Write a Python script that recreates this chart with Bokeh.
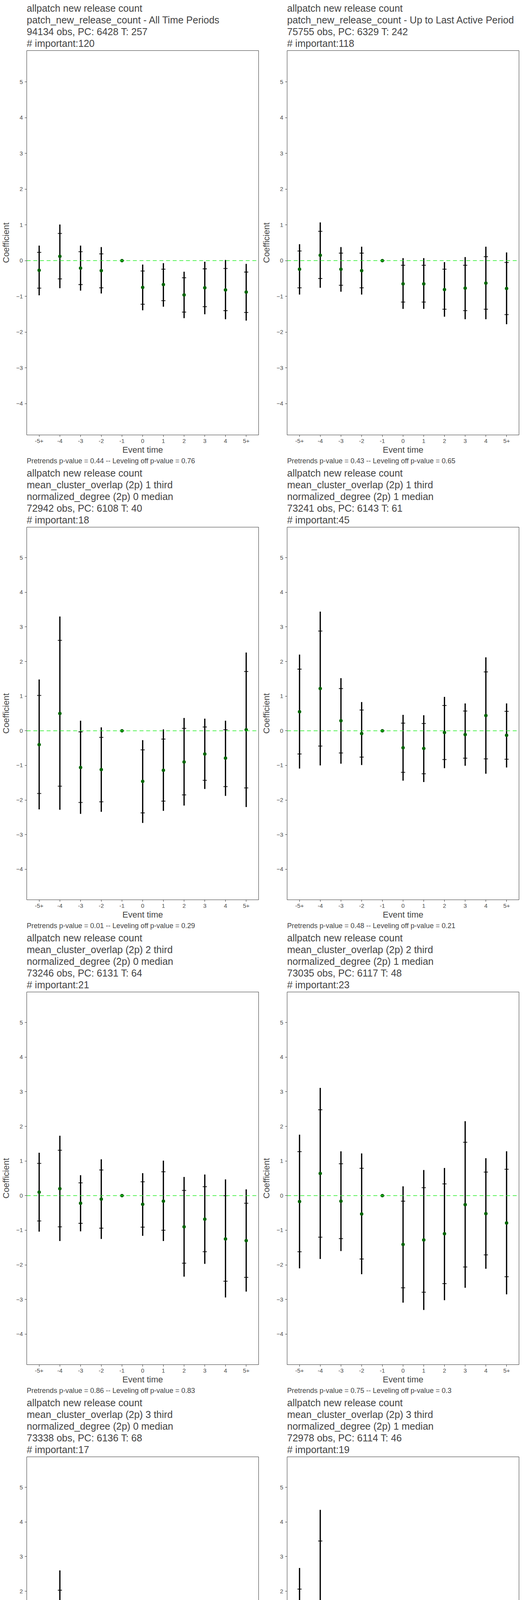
from bokeh.plotting import figure
from bokeh.layouts import gridplot
from bokeh.models import Title, FixedTicker, Span, ColumnDataSource
from bokeh.embed import file_html
from bokeh.resources import INLINE

event_labels = ["-5+", "-4", "-3", "-2", "-1", "0", "1", "2", "3", "4", "5+"]

titles = [
    " allpatch new release count\npatch_new_release_count - All Time Periods\n94134 obs, PC: 6428 T: 257\n# important:120",
    " allpatch new release count\npatch_new_release_count - Up to Last Active Period\n75755 obs, PC: 6329 T: 242\n# important:118",
    " allpatch new release count\nmean_cluster_overlap (2p) 1 third\nnormalized_degree (2p) 0 median\n72942 obs, PC: 6108 T: 40\n# important:18",
    " allpatch new release count\nmean_cluster_overlap (2p) 1 third\nnormalized_degree (2p) 1 median\n73241 obs, PC: 6143 T: 61\n# important:45",
    " allpatch new release count\nmean_cluster_overlap (2p) 2 third\nnormalized_degree (2p) 0 median\n73246 obs, PC: 6131 T: 64\n# important:21",
    " allpatch new release count\nmean_cluster_overlap (2p) 2 third\nnormalized_degree (2p) 1 median\n73035 obs, PC: 6117 T: 48\n# important:23",
    " allpatch new release count\nmean_cluster_overlap (2p) 3 third\nnormalized_degree (2p) 0 median\n73338 obs, PC: 6136 T: 68\n# important:17",
    " allpatch new release count\nmean_cluster_overlap (2p) 3 third\nnormalized_degree (2p) 1 median\n72978 obs, PC: 6114 T: 46\n# important:19",
]

pvalues = [
    "Pretrends p-value = 0.44 -- Leveling off p-value = 0.76",
    "Pretrends p-value = 0.43 -- Leveling off p-value = 0.65",
    "Pretrends p-value = 0.01 -- Leveling off p-value = 0.29",
    "Pretrends p-value = 0.48 -- Leveling off p-value = 0.21",
    "Pretrends p-value = 0.86 -- Leveling off p-value = 0.83",
    "Pretrends p-value = 0.75 -- Leveling off p-value = 0.3",
    "Pretrends p-value = 0.69 -- Leveling off p-value = 0.36",
    "Pretrends p-value = 0.38 -- Leveling off p-value = 0.42",
]

# coefficient, outer (95%) bounds, inner bounds per panel
p1_coef = [-0.27, 0.12, -0.21, -0.28, 0, -0.75, -0.67, -0.96, -0.76, -0.82, -0.88]
p1_hi = [0.42, 1.01, 0.42, 0.38, 0, -0.11, -0.07, -0.31, -0.03, 0.02, -0.09]
p1_hi_in = [0.23, 0.76, 0.25, 0.19, 0, -0.29, -0.24, -0.48, -0.23, -0.22, -0.32]
p1_lo_in = [-0.77, -0.51, -0.67, -0.76, 0, -1.22, -1.12, -1.44, -1.29, -1.40, -1.45]
p1_lo = [-0.97, -0.77, -0.84, -0.92, 0, -1.39, -1.29, -1.61, -1.50, -1.64, -1.68]

p2_coef = [-0.24, 0.15, -0.24, -0.28, 0, -0.65, -0.65, -0.81, -0.77, -0.63, -0.78]
p2_hi = [0.46, 1.07, 0.38, 0.39, 0, 0.07, 0.07, -0.04, 0.10, 0.39, 0.23]
p2_hi_in = [0.27, 0.82, 0.21, 0.21, 0, -0.13, -0.13, -0.24, -0.13, 0.11, -0.05]
p2_lo_in = [-0.76, -0.50, -0.69, -0.76, 0, -1.16, -1.16, -1.36, -1.40, -1.36, -1.51]
p2_lo = [-0.95, -0.76, -0.87, -0.95, 0, -1.35, -1.35, -1.57, -1.64, -1.64, -1.78]

p3_coef = [-0.40, 0.50, -1.06, -1.12, 0, -1.46, -1.14, -0.90, -0.67, -0.79, 0.03]
p3_hi = [1.48, 3.30, 0.29, 0.10, 0, -0.27, 0.04, 0.37, 0.35, 0.29, 2.26]
p3_hi_in = [1.02, 2.61, -0.03, -0.19, 0, -0.55, -0.24, 0.07, 0.11, 0.03, 1.71]
p3_lo_in = [-1.81, -1.60, -2.07, -2.05, 0, -2.37, -2.03, -1.85, -1.43, -1.61, -1.65]
p3_lo = [-2.27, -2.28, -2.40, -2.34, 0, -2.66, -2.31, -2.16, -1.68, -1.88, -2.20]

p4_coef = [0.55, 1.22, 0.29, -0.08, 0, -0.49, -0.51, -0.05, -0.11, 0.44, -0.13]
p4_hi = [2.20, 3.44, 1.52, 0.83, 0, 0.46, 0.45, 0.98, 0.79, 2.12, 0.79]
p4_hi_in = [1.78, 2.88, 1.22, 0.60, 0, 0.22, 0.21, 0.73, 0.57, 1.70, 0.56]
p4_lo_in = [-0.67, -0.44, -0.64, -0.76, 0, -1.20, -1.24, -0.83, -0.79, -0.81, -0.82]
p4_lo = [-1.09, -1.00, -0.95, -0.99, 0, -1.44, -1.48, -1.08, -1.01, -1.24, -1.06]

p5_coef = [0.10, 0.20, -0.22, -0.10, 0, -0.25, -0.16, -0.90, -0.68, -1.25, -1.30]
p5_hi = [1.24, 1.73, 0.59, 1.05, 0, 0.65, 1.01, 0.54, 0.61, 0.47, 0.18]
p5_hi_in = [0.93, 1.31, 0.37, 0.74, 0, 0.40, 0.69, 0.15, 0.26, 0.00, -0.22]
p5_lo_in = [-0.73, -0.90, -0.80, -0.94, 0, -0.91, -1.00, -1.95, -1.62, -2.47, -2.36]
p5_lo = [-1.04, -1.31, -1.03, -1.25, 0, -1.16, -1.31, -2.34, -1.97, -2.94, -2.77]

p6_coef = [-0.17, 0.64, -0.16, -0.53, 0, -1.41, -1.28, -1.10, -0.26, -0.52, -0.79]
p6_hi = [1.76, 3.11, 1.28, 1.22, 0, 0.27, 0.74, 0.80, 2.15, 1.08, 1.28]
p6_hi_in = [1.27, 2.48, 0.92, 0.79, 0, -0.16, 0.23, 0.34, 1.54, 0.68, 0.76]
p6_lo_in = [-1.62, -1.20, -1.24, -1.83, 0, -2.66, -2.79, -2.54, -2.06, -1.71, -2.34]
p6_lo = [-2.10, -1.83, -1.60, -2.27, 0, -3.09, -3.30, -3.02, -2.66, -2.11, -2.85]

p7_coef = [0.01, 0.54, -0.33, -0.17, 0, 0.11, 0.28, 0.10, 0.13, 0.36, 0.01]
p7_hi = [1.47, 2.60, 0.61, 0.82, 0, 1.37, 1.44, 1.09, 1.12, 1.71, 1.16]
p7_hi_in = [1.07, 2.03, 0.37, 0.55, 0, 1.03, 1.12, 0.82, 0.86, 1.34, 0.85]
p7_lo_in = [-1.05, -0.95, -1.01, -0.91, 0, -0.79, -0.58, -0.63, -0.60, -0.62, -0.82]
p7_lo = [-1.44, -1.51, -1.27, -1.18, 0, -1.13, -0.89, -0.90, -0.86, -0.99, -1.13]

p8_coef = [0.54, 1.23, -0.19, -0.36, 0, -0.66, -0.74, -0.33, -1.02, -0.61, -0.99]
p8_hi = [2.67, 4.35, 0.92, 0.49, 0, 0.15, 0.15, 0.93, 0.13, 0.80, 0.28]
p8_hi_in = [2.06, 3.45, 0.61, 0.25, 0, -0.08, -0.10, 0.57, -0.20, 0.42, -0.09]
p8_lo_in = [-0.97, -0.99, -0.99, -0.98, 0, -1.22, -1.38, -1.24, -1.83, -1.62, -1.91]
p8_lo = [-1.57, -1.89, -1.30, -1.21, 0, -1.44, -1.62, -1.59, -2.16, -2.04, -2.21]

panels = [
    (p1_coef, p1_hi, p1_hi_in, p1_lo_in, p1_lo),
    (p2_coef, p2_hi, p2_hi_in, p2_lo_in, p2_lo),
    (p3_coef, p3_hi, p3_hi_in, p3_lo_in, p3_lo),
    (p4_coef, p4_hi, p4_hi_in, p4_lo_in, p4_lo),
    (p5_coef, p5_hi, p5_hi_in, p5_lo_in, p5_lo),
    (p6_coef, p6_hi, p6_hi_in, p6_lo_in, p6_lo),
    (p7_coef, p7_hi, p7_hi_in, p7_lo_in, p7_lo),
    (p8_coef, p8_hi, p8_hi_in, p8_lo_in, p8_lo),
]

FONT = "Liberation Sans"
xs = list(range(len(event_labels)))


def make_panel(title, ptext, coef, hi, hi_in, lo_in, lo):
    p = figure(width=667, height=1190, x_range=(-0.6, 10.6), y_range=(-4.88, 5.88),
               output_backend="svg", toolbar_location=None,
               min_border_left=58, min_border_right=5, min_border_top=4, min_border_bottom=4)
    p.title.text = title
    p.title.text_font = FONT
    p.title.text_font_size = "25px"
    p.title.text_font_style = "normal"
    p.title.text_line_height = 1.08
    p.title.standoff = 8
    p.add_layout(Title(text=ptext, align="left", text_font=FONT, text_font_size="18px",
                       text_font_style="normal", standoff=2), "below")

    p.grid.visible = False
    p.outline_line_color = "#333333"
    p.outline_line_width = 1
    p.background_fill_color = "white"

    for ax in (p.xaxis[0], p.yaxis[0]):
        ax.axis_line_color = None
        ax.major_tick_line_color = "#333333"
        ax.major_tick_out = 5
        ax.major_tick_in = 0
        ax.minor_tick_line_color = None
        ax.major_label_text_color = "#4d4d4d"
        ax.major_label_text_font = FONT
        ax.major_label_text_font_size = "15px"
        ax.axis_label_text_font = FONT
        ax.axis_label_text_font_style = "normal"
        ax.axis_label_text_font_size = "22px"
        ax.axis_label_standoff = 2

    p.xaxis.ticker = FixedTicker(ticks=xs)
    p.xaxis.major_label_overrides = {i: lab for i, lab in enumerate(event_labels)}
    p.xaxis.axis_label = "Event time"
    p.yaxis.ticker = FixedTicker(ticks=[-4, -3, -2, -1, 0, 1, 2, 3, 4, 5])
    p.yaxis.axis_label = "Coefficient"
    p.yaxis.axis_label_standoff = 10

    src = ColumnDataSource(dict(x=xs, coef=coef, hi=hi, hi_in=hi_in, lo_in=lo_in, lo=lo,
                                xl=[x - 0.1 for x in xs], xr=[x + 0.1 for x in xs]))
    p.add_layout(Span(location=0, dimension="width", line_color="#22ee22",
                      line_dash="10 7", line_width=1.5))
    p.segment(x0="x", y0="lo", x1="x", y1="hi", source=src, line_color="black", line_width=3.2)
    p.segment(x0="xl", y0="hi_in", x1="xr", y1="hi_in", source=src, line_color="black", line_width=1.8)
    p.segment(x0="xl", y0="lo_in", x1="xr", y1="lo_in", source=src, line_color="black", line_width=1.8)
    p.scatter(x="x", y="coef", source=src, size=8, fill_color="#006400", line_color="#006400")
    return p


figs = [make_panel(t, pt, *vals) for t, pt, vals in zip(titles, pvalues, panels)]
grid = gridplot([figs[i:i + 2] for i in range(0, 8, 2)], toolbar_location=None)

open("out.html", "w").write(file_html(grid, INLINE))
